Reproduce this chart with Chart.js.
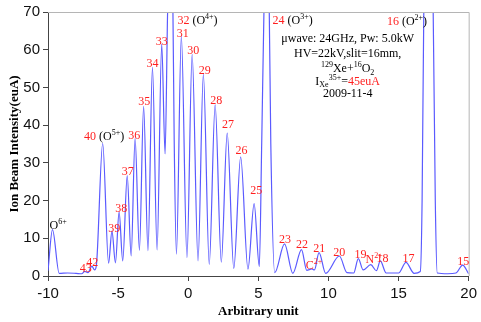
<!doctype html>
<html lang="en">
<head>
<meta charset="UTF-8" />
<title>Ion Beam Spectrum</title>
<style>
  html, body { margin: 0; padding: 0; background: #fff; }
  canvas { display: block; }
</style>
</head>
<body>
<canvas id="myChart" width="481" height="322"></canvas>
<script src="https://cdn.jsdelivr.net/npm/chart.js"></script>
<script>
// spectrum (x in arbitrary units, y in euA)
const posX = [
  -10.0, -9.68, -9.2, -8.6, -8.0, -7.6, -7.38, -7.15, -6.87, -6.68,
  -6.55, -6.10, -5.68, -5.44, -5.19, -4.93, -4.67, -4.35, -4.07, -3.79,
  -3.48, -3.18, -2.87, -2.55, -2.22, -1.89, -1.65, -1.47, -1.28, -1.09,
  -1.00, -0.84, -0.49, -0.09, 0.28, 0.70, 1.08, 1.50, 1.92, 2.36,
  2.78, 3.25, 3.74, 4.26, 4.70, 5.07, 5.24, 5.40, 5.58, 5.78,
  5.89, 6.17, 6.87, 7.46, 8.08, 8.45, 8.82, 9.0, 9.33, 9.80,
  10.78, 11.32, 11.8, 12.13, 12.48, 13.02, 13.42, 13.70, 14.12, 15.0,
  15.53, 16.11, 16.55, 16.68, 16.80, 17.13, 17.47, 17.62, 17.76, 18.5,
  19.1, 19.57, 20.0
];
const intensity = [
  1.4, 12.3, 0.7, 0.8, 0.7, 0.6, 1.2, 0.9, 2.6, 1.6,
  2.8, 35.2, 3.4, 11.9, 3.5, 17.0, 4.0, 26.6, 5.3, 36.5,
  6.8, 45.0, 6.7, 55.3, 6.9, 61.5, 32.4, 70, 95, 70,
  36, 5.8, 63.7, 4.9, 58.8, 4.0, 53.5, 3.1, 45.4, 3.7,
  37.9, 2.0, 31.6, 1.8, 19.2, 2.5, 35, 70, 95, 70,
  35, 0.9, 8.5, 0.7, 7.0, 1.5, 1.9, 1.6, 6.2, 0.7,
  5.3, 0.9, 0.8, 4.6, 1.6, 3.0, 1.4, 4.0, 0.8, 0.8,
  3.6, 0.7, 1.2, 20, 70, 95, 70, 20, 0.8, 0.6,
  0.8, 2.9, 0.6
];

// peak labels: [r] red, [k] black, ^{} superscript, _{} subscript
const peakText = [
  '[k]O^{6+}', '[r]43', '[r]42', '[r]40 [k](O^{5+})', '[r]39', '[r]38', '[r]37', '[r]36',
  '[r]35', '[r]34', '[r]33', '[r]32 [k](O^{4+})', '[r]31', '[r]30', '[r]29', '[r]28',
  '[r]27', '[r]26', '[r]25', '[r]24 [k](O^{3+})', '[r]23', '[r]22', '[r]C^{2+}', '[r]21',
  '[r]20', '[r]19', '[r]N^{2+}', '[r]18', '[r]17', '[r]16 [k](O^{2+})', '[r]15'
];
const peakTextX = [
  -9.89, -7.73, -7.27, -7.43, -5.70, -5.21, -4.74, -4.28,
  -3.56, -2.97, -2.31, -0.77, -0.81, -0.07, 0.75, 1.57,
  2.41, 3.37, 4.42, 6.01, 6.48, 7.69, 8.39, 8.91,
  10.34, 11.85, 12.65, 13.42, 15.29, 14.17, 19.19
];
const peakTextY = [
  13.4, 2.0, 3.6, 37.0, 12.6, 17.7, 27.7, 37.1,
  46.2, 56.3, 62.0, 67.6, 64.1, 59.7, 54.4, 46.5,
  40.1, 33.1, 22.5, 67.6, 9.7, 8.2, 2.6, 7.2,
  6.2, 5.5, 4.2, 4.6, 4.6, 67.4, 3.7
];

// run conditions, centred block
const noteLines = [
  '[k]\u03bcwave: 24GHz, Pw: 5.0kW',
  '[k]HV=22kV,slit=16mm,',
  '[k]^{129}Xe+^{16}O_{2}',
  '[k]I_{Xe}^{35+}=[r]45euA',
  '[k]2009-11-4'
];
const noteX = 11.37;
const noteY = [62.8, 58.8, 54.9, 51.5, 48.3];

const RED = '#ff1f1f';
const SERIF = '"Liberation Serif", "Times New Roman", serif';

function parseRich(str) {
    const parts = [];
    let color = '#000';
    const re = /\[(r|k)\]|\^\{([^}]*)\}|_\{([^}]*)\}|([^\[\^_]+)/g;
    let m;
    while ((m = re.exec(str)) !== null) {
        if (m[1]) color = m[1] === 'r' ? RED : '#000';
        else if (m[2] !== undefined) parts.push({t: m[2], c: color, k: 'sup'});
        else if (m[3] !== undefined) parts.push({t: m[3], c: color, k: 'sub'});
        else parts.push({t: m[4], c: color, k: 'base'});
    }
    return parts;
}

function drawRich(ctx, str, x, y, align) {
    const parts = parseRich(str);
    const fontFor = k => (k === 'base' ? '12px ' : '8px ') + SERIF;
    let w = 0;
    parts.forEach(p => { ctx.font = fontFor(p.k); p.w = ctx.measureText(p.t).width; w += p.w; });
    let cx = align === 'center' ? x - w / 2 : x;
    ctx.textAlign = 'left';
    ctx.textBaseline = 'middle';
    parts.forEach(p => {
        ctx.font = fontFor(p.k);
        ctx.fillStyle = p.c;
        const dy = p.k === 'sup' ? -4 : (p.k === 'sub' ? 3.5 : 0);
        ctx.fillText(p.t, cx, y + dy);
        cx += p.w;
    });
}

const annotations = {
    id: 'annotations',
    afterDraw(chart) {
        const ctx = chart.ctx;
        const xs = chart.scales.x, ys = chart.scales.y;
        const a = chart.chartArea;
        ctx.save();
        // light frame on top and right
        ctx.strokeStyle = '#b5b5b5';
        ctx.lineWidth = 1;
        ctx.beginPath();
        ctx.moveTo(a.left, a.top + 0.5);
        ctx.lineTo(a.right + 0.5, a.top + 0.5);
        ctx.lineTo(a.right + 0.5, a.bottom);
        ctx.stroke();
        peakText.forEach((t, i) => {
            drawRich(ctx, t, xs.getPixelForValue(peakTextX[i]), ys.getPixelForValue(peakTextY[i]), 'left');
        });
        noteLines.forEach((t, i) => {
            drawRich(ctx, t, xs.getPixelForValue(noteX), ys.getPixelForValue(noteY[i]), 'center');
        });
        ctx.restore();
    }
};

const ctx = document.getElementById('myChart');
const chart = new Chart(ctx, {
    type: 'line',
    data: {
        datasets: [{
            data: posX.map((x, i) => ({x: x, y: intensity[i]})),
            borderColor: '#5a5aff',
            borderWidth: 1.2,
            pointRadius: 0,
            fill: false,
            cubicInterpolationMode: 'monotone'
        }]
    },
    options: {
        responsive: false,
        animation: false,
        devicePixelRatio: 1,
        layout: { padding: { top: 11, right: 5, left: 0, bottom: 0 } },
        plugins: { legend: { display: false }, tooltip: { enabled: false } },
        scales: {
            x: {
                type: 'linear',
                min: -10,
                max: 20,
                afterFit: s => { s.height = 46; },
                ticks: { stepSize: 5, color: '#111', padding: 4, font: { family: '"Liberation Sans", Arial, sans-serif', size: 15 } },
                grid: { drawOnChartArea: false, tickLength: 5, color: '#444' },
                border: { color: '#444' },
                title: { display: true, text: 'Arbitrary unit', color: '#000', padding: { top: 0, bottom: 3 },
                         font: { family: SERIF, size: 13, weight: 'bold' } }
            },
            y: {
                min: 0,
                max: 70,
                afterFit: s => { s.width = 48; },
                ticks: { stepSize: 10, color: '#111', padding: 3, font: { family: '"Liberation Sans", Arial, sans-serif', size: 15 } },
                grid: { drawOnChartArea: false, tickLength: 5, color: '#444' },
                border: { color: '#444' },
                title: { display: true, text: 'Ion Beam Intensity(euA)', color: '#000', padding: { top: 7, bottom: 0 },
                         font: { family: SERIF, size: 13, weight: 'bold' } }
            }
        }
    },
    plugins: [annotations]
});
</script>
</body>
</html>
